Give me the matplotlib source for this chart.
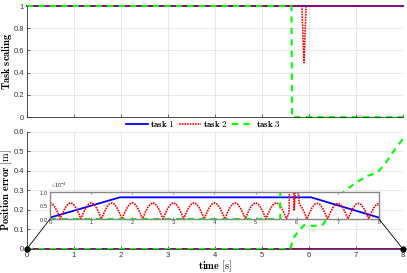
import numpy as np
import matplotlib
matplotlib.use("Agg")
import matplotlib.pyplot as plt
from matplotlib.patches import ConnectionPatch

plt.rcParams["mathtext.fontset"] = "cm"
plt.rcParams["font.family"] = ["Liberation Sans", "DejaVu Sans"]

# ---------------- data ----------------
# task scaling (top panel)
t_s1 = [0, 8]
s1 = [1, 1]
t_s2 = [0, 5.85, 5.895, 5.94, 8]
s2 = [1, 1, 0.49, 1, 1]
t_s3 = [0, 5.63, 5.64, 8]
s3 = [1, 1, 0, 0]

# position error (bottom panel), task 1 and task 2 in units of 1e-4 m
t_e1 = [0, 1.7, 6.35, 8]
e1 = [0.05, 0.8, 0.8, 0.05]

e2 = [
    0.6, 0.55, 0.42, 0.23, 0.0, 0.23, 0.42, 0.55,
    0.6, 0.55, 0.42, 0.23, 0.0, 0.23, 0.42, 0.55,
    0.6, 0.55, 0.42, 0.23, 0.0, 0.23, 0.42, 0.55,
    0.6, 0.55, 0.42, 0.23, 0.0, 0.23, 0.42, 0.55,
    0.6, 0.55, 0.42, 0.23, 0.0, 0.23, 0.42, 0.55,
    0.6, 0.55, 0.42, 0.23, 0.0, 0.23, 0.42, 0.55,
    0.6, 0.55, 0.42, 0.23, 0.0, 0.23, 0.42, 0.55,
    0.6, 0.55, 0.42, 0.23, 0.0, 0.23, 0.42, 0.55,
    0.6, 0.55, 0.42, 0.23, 0.0, 0.23, 0.42, 0.55,
    0.6, 0.55, 0.42, 0.23, 0.0, 0.23, 0.42, 0.55,
    0.6, 0.55, 0.42, 0.23, 0.0, 0.23, 0.42, 0.55,
    0.6, 0.55, 0.42, 0.23, 0.0, 0.23, 5.0, 0.3,
    2.0, 0.55, 0.42, 0.23, 0.0, 0.23, 0.42, 0.55,
    0.58, 0.54, 0.41, 0.22, 0.0, 0.22, 0.41, 0.54,
    0.58, 0.54, 0.41, 0.22, 0.0, 0.22, 0.41, 0.54,
    0.58, 0.54, 0.41, 0.22, 0.0, 0.22, 0.41, 0.54,
    0.58,
]
t_e2 = np.linspace(0, 8, len(e2))

# task 3 in metres
t_e3 = [0, 5.6, 5.69, 5.8, 5.9, 6.1, 6.3, 6.5, 6.75, 7.0, 7.25, 7.45, 7.6, 7.8, 8.0]
e3 = [0, 0, 0.063, 0.097, 0.123, 0.118, 0.125, 0.2, 0.295, 0.34, 0.375, 0.39, 0.43, 0.5, 0.565]

labels = ["task 1", "task 2", "task 3"]
x_ticks = [0, 1, 2, 3, 4, 5, 6, 7, 8]

# ---------------- styles ----------------
c1, c2, c3 = "#0000ff", "#ff0000", "#00ff00"
sty1 = dict(color=c1, lw=1.3, ls="-")
sty2 = dict(color=c2, lw=1.2, ls=(0, (1, 0.6)))
sty3 = dict(color=c3, lw=1.5, ls=(0, (3, 2.5)))
axcol = "#333333"


def style_axes(ax, box=False):
    for s in ["left", "bottom"]:
        ax.spines[s].set_color(axcol)
        ax.spines[s].set_linewidth(0.6)
    if not box:
        ax.spines["top"].set_visible(False)
        ax.spines["right"].set_visible(False)
    ax.tick_params(direction="in", length=2.5, width=0.5, colors=axcol,
                   labelsize=5.5, pad=2)


fig = plt.figure(figsize=(4.07, 2.73), dpi=100)

# top panel
ax1 = fig.add_axes([0.066, 0.571, 0.924, 0.407])
ax1.plot(t_s1, s1, clip_on=False, **sty1)
ax1.plot(t_s2, s2, clip_on=False, **sty2)
ax1.plot(t_s3, s3, clip_on=False, **sty3)
ax1.set_xlim(0, 8)
ax1.set_ylim(0, 1)
ax1.set_xticks(x_ticks)
ax1.set_xticklabels([])
ax1.set_yticks([0, 0.2, 0.4, 0.6, 0.8, 1])
ax1.set_yticklabels(["0", "0.2", "0.4", "0.6", "0.8", "1"])
ax1.grid(True, color="#dedede", lw=0.5)
style_axes(ax1)
ax1.set_ylabel(r"$\mathbf{Task\ scaling}$", fontsize=7.5)
ax1.yaxis.set_label_coords(-0.034, 0.5)

# bottom panel
ax2 = fig.add_axes([0.066, 0.088, 0.924, 0.429])
e1_m = np.array(e1) * 1e-4
e2_m = np.array(e2) * 1e-4
h1, = ax2.plot(t_e1, e1_m, label=labels[0], **sty1)
h2, = ax2.plot(t_e2, e2_m, label=labels[1], **sty2)
h3, = ax2.plot(t_e3, e3, label=labels[2], **sty3)
ax2.set_xlim(0, 8)
ax2.set_ylim(0, 0.6)
ax2.set_xticks(x_ticks)
ax2.set_yticks([0, 0.1, 0.2, 0.3, 0.4, 0.5, 0.6])
ax2.set_yticklabels(["0", "0.1", "0.2", "0.3", "0.4", "0.5", "0.6"])
ax2.grid(True, color="#dedede", lw=0.5)
style_axes(ax2)
ax2.set_ylabel(r"$\mathbf{Position\ error}\ [\mathrm{m}]$", fontsize=7.5)
ax2.yaxis.set_label_coords(-0.034, 0.5)
ax2.set_xlabel(r"$\mathbf{time}\ [\mathrm{s}]$", fontsize=7.5)
ax2.xaxis.set_label_coords(0.5, -0.085)
ax2.plot([0, 8], [0, 0], "o", color="black", ms=3.5, clip_on=False, zorder=6)

# inset zoom
axi = fig.add_axes([0.123, 0.198, 0.808, 0.099])
axi.plot(t_e1, e1_m, **sty1)
axi.plot(t_e2, e2_m, **sty2)
axi.plot(t_e3, e3, **sty3)
axi.set_xlim(0, 8)
axi.set_ylim(0, 1e-4)
axi.set_xticks(x_ticks)
axi.set_yticks([0, 0.5e-4, 1e-4])
axi.ticklabel_format(axis="y", style="sci", scilimits=(0, 0), useMathText=True)
axi.yaxis.get_offset_text().set_fontsize(4)
axi.yaxis.get_offset_text().set_color(axcol)
for s in axi.spines.values():
    s.set_color("#888888")
    s.set_linewidth(1.0)
axi.tick_params(direction="in", length=1.5, width=0.4, colors=axcol,
                labelsize=4, pad=1, top=True, right=True)

for xa, xb in [(0, 0), (8, 1)]:
    con = ConnectionPatch(xyA=(xa, 0), coordsA=ax2.transData,
                          xyB=(xb, 0), coordsB=axi.transAxes,
                          color="black", lw=0.6)
    fig.add_artist(con)

fig.legend([h1, h2, h3],
           [r"$\mathbf{task\ 1}$", r"$\mathbf{task\ 2}$", r"$\mathbf{task\ 3}$"],
           loc="center", bbox_to_anchor=(0.5, 0.545), ncol=3, frameon=False,
           fontsize=6.5, handlelength=2.4, handletextpad=0.2, columnspacing=0.5,
           borderaxespad=0, borderpad=0)

fig.savefig("out.png", dpi=100)
